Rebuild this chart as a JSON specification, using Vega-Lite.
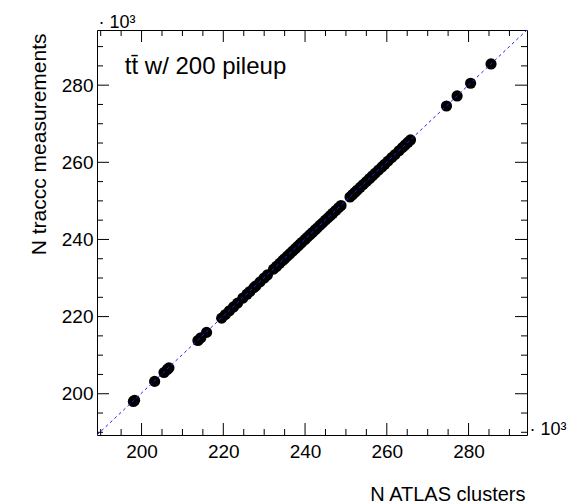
{
  "$schema": "https://vega.github.io/schema/vega-lite/v6.json",
  "width": 430,
  "height": 405,
  "autosize": "none",
  "padding": {"left": 97, "top": 30, "right": 40, "bottom": 68},
  "background": "white",
  "config": {
    "view": {"stroke": "black", "strokeWidth": 1},
    "font": "Liberation Sans",
    "axis": {
      "labelColor": "black", "titleColor": "black",
      "labelFont": "Liberation Sans", "titleFont": "Liberation Sans",
      "labelFontSize": 19, "titleFontSize": 20, "titleFontWeight": "normal"
    }
  },
  "datasets": {
    "pts": [
      {"clusters": 198.0, "measurements": 198.0},
      {"clusters": 198.3, "measurements": 198.3},
      {"clusters": 203.2, "measurements": 203.2},
      {"clusters": 205.5, "measurements": 205.5},
      {"clusters": 206.3, "measurements": 206.3},
      {"clusters": 206.7, "measurements": 206.7},
      {"clusters": 213.8, "measurements": 213.8},
      {"clusters": 214.5, "measurements": 214.5},
      {"clusters": 215.9, "measurements": 215.9},
      {"clusters": 219.6, "measurements": 219.6},
      {"clusters": 220.5, "measurements": 220.5},
      {"clusters": 221.5, "measurements": 221.5},
      {"clusters": 222.5, "measurements": 222.5},
      {"clusters": 223.5, "measurements": 223.5},
      {"clusters": 224.8, "measurements": 224.8},
      {"clusters": 225.8, "measurements": 225.8},
      {"clusters": 226.5, "measurements": 226.5},
      {"clusters": 227.5, "measurements": 227.5},
      {"clusters": 228.0, "measurements": 228.0},
      {"clusters": 229.0, "measurements": 229.0},
      {"clusters": 230.0, "measurements": 230.0},
      {"clusters": 230.8, "measurements": 230.8},
      {"clusters": 232.3, "measurements": 232.3},
      {"clusters": 233.0, "measurements": 233.0},
      {"clusters": 233.8, "measurements": 233.8},
      {"clusters": 234.5, "measurements": 234.5},
      {"clusters": 235.0, "measurements": 235.0},
      {"clusters": 235.7, "measurements": 235.7},
      {"clusters": 236.3, "measurements": 236.3},
      {"clusters": 237.0, "measurements": 237.0},
      {"clusters": 237.6, "measurements": 237.6},
      {"clusters": 238.2, "measurements": 238.2},
      {"clusters": 238.8, "measurements": 238.8},
      {"clusters": 239.3, "measurements": 239.3},
      {"clusters": 240.0, "measurements": 240.0},
      {"clusters": 240.6, "measurements": 240.6},
      {"clusters": 241.2, "measurements": 241.2},
      {"clusters": 241.8, "measurements": 241.8},
      {"clusters": 242.5, "measurements": 242.5},
      {"clusters": 243.0, "measurements": 243.0},
      {"clusters": 243.7, "measurements": 243.7},
      {"clusters": 244.3, "measurements": 244.3},
      {"clusters": 245.0, "measurements": 245.0},
      {"clusters": 245.6, "measurements": 245.6},
      {"clusters": 246.2, "measurements": 246.2},
      {"clusters": 246.8, "measurements": 246.8},
      {"clusters": 247.5, "measurements": 247.5},
      {"clusters": 248.2, "measurements": 248.2},
      {"clusters": 248.8, "measurements": 248.8},
      {"clusters": 251.0, "measurements": 251.0},
      {"clusters": 251.6, "measurements": 251.6},
      {"clusters": 252.2, "measurements": 252.2},
      {"clusters": 252.8, "measurements": 252.8},
      {"clusters": 253.5, "measurements": 253.5},
      {"clusters": 254.2, "measurements": 254.2},
      {"clusters": 255.0, "measurements": 255.0},
      {"clusters": 255.8, "measurements": 255.8},
      {"clusters": 256.5, "measurements": 256.5},
      {"clusters": 257.2, "measurements": 257.2},
      {"clusters": 258.0, "measurements": 258.0},
      {"clusters": 258.8, "measurements": 258.8},
      {"clusters": 259.5, "measurements": 259.5},
      {"clusters": 260.3, "measurements": 260.3},
      {"clusters": 261.2, "measurements": 261.2},
      {"clusters": 262.0, "measurements": 262.0},
      {"clusters": 263.0, "measurements": 263.0},
      {"clusters": 263.8, "measurements": 263.8},
      {"clusters": 264.5, "measurements": 264.5},
      {"clusters": 265.2, "measurements": 265.2},
      {"clusters": 265.8, "measurements": 265.8},
      {"clusters": 274.6, "measurements": 274.6},
      {"clusters": 277.2, "measurements": 277.2},
      {"clusters": 280.5, "measurements": 280.5},
      {"clusters": 285.5, "measurements": 285.5}
    ],
    "diag": [
      {"clusters": 189.1, "measurements": 189.3},
      {"clusters": 294.3, "measurements": 294.3}
    ],
    "label": [
      {"text": "tt\u0304 w/ 200 pileup", "clusters": 195.9, "measurements": 283.0}
    ],
    "major": [{"v": 200}, {"v": 220}, {"v": 240}, {"v": 260}, {"v": 280}],
    "minor": [
      {"v": 190}, {"v": 195}, {"v": 205}, {"v": 210}, {"v": 215}, {"v": 225}, {"v": 230},
      {"v": 235}, {"v": 245}, {"v": 250}, {"v": 255}, {"v": 265}, {"v": 270}, {"v": 275},
      {"v": 285}, {"v": 290}
    ]
  },
  "layer": [
    {
      "data": {"name": "pts"},
      "mark": {"type": "circle", "color": "black", "size": 125, "opacity": 1},
      "encoding": {
        "x": {
          "field": "clusters", "type": "quantitative",
          "scale": {"domain": [189.1, 294.3], "nice": false, "zero": false},
          "axis": {
            "orient": "bottom", "values": [200, 220, 240, 260, 280], "grid": false, "domain": false,
            "ticks": false, "labelPadding": 7,
            "title": "N ATLAS clusters", "titleAnchor": "end", "titleAlign": "right",
            "titleBaseline": "alphabetic", "titleX": 428, "titleY": 65
          }
        },
        "y": {
          "field": "measurements", "type": "quantitative",
          "scale": {"domain": [189.3, 294.3], "nice": false, "zero": false},
          "axis": {
            "orient": "left", "values": [200, 220, 240, 260, 280], "grid": false, "domain": false,
            "ticks": false, "labelPadding": 4,
            "title": "N traccc measurements", "titleAnchor": "end", "titleAlign": "right",
            "titleAngle": -90, "titleBaseline": "alphabetic", "titleX": -52, "titleY": 3,
            "titleFontSize": 21
          }
        }
      }
    },
    {
      "data": {"name": "major"},
      "mark": {"type": "tick", "orient": "vertical", "color": "black", "size": 24, "thickness": 1, "opacity": 1, "clip": true},
      "encoding": {"x": {"field": "v", "type": "quantitative", "axis": null}, "y": {"datum": 189.3, "type": "quantitative", "axis": null}}
    },
    {
      "data": {"name": "minor"},
      "mark": {"type": "tick", "orient": "vertical", "color": "black", "size": 12, "thickness": 1, "opacity": 1, "clip": true},
      "encoding": {"x": {"field": "v", "type": "quantitative", "axis": null}, "y": {"datum": 189.3, "type": "quantitative", "axis": null}}
    },
    {
      "data": {"name": "major"},
      "mark": {"type": "tick", "orient": "vertical", "color": "black", "size": 24, "thickness": 1, "opacity": 1, "clip": true},
      "encoding": {"x": {"field": "v", "type": "quantitative", "axis": null}, "y": {"datum": 294.3, "type": "quantitative", "axis": null}}
    },
    {
      "data": {"name": "minor"},
      "mark": {"type": "tick", "orient": "vertical", "color": "black", "size": 12, "thickness": 1, "opacity": 1, "clip": true},
      "encoding": {"x": {"field": "v", "type": "quantitative", "axis": null}, "y": {"datum": 294.3, "type": "quantitative", "axis": null}}
    },
    {
      "data": {"name": "major"},
      "mark": {"type": "tick", "orient": "horizontal", "color": "black", "size": 24, "thickness": 1, "opacity": 1, "clip": true},
      "encoding": {"y": {"field": "v", "type": "quantitative", "axis": null}, "x": {"datum": 189.1, "type": "quantitative", "axis": null}}
    },
    {
      "data": {"name": "minor"},
      "mark": {"type": "tick", "orient": "horizontal", "color": "black", "size": 12, "thickness": 1, "opacity": 1, "clip": true},
      "encoding": {"y": {"field": "v", "type": "quantitative", "axis": null}, "x": {"datum": 189.1, "type": "quantitative", "axis": null}}
    },
    {
      "data": {"name": "major"},
      "mark": {"type": "tick", "orient": "horizontal", "color": "black", "size": 24, "thickness": 1, "opacity": 1, "clip": true},
      "encoding": {"y": {"field": "v", "type": "quantitative", "axis": null}, "x": {"datum": 294.3, "type": "quantitative", "axis": null}}
    },
    {
      "data": {"name": "minor"},
      "mark": {"type": "tick", "orient": "horizontal", "color": "black", "size": 12, "thickness": 1, "opacity": 1, "clip": true},
      "encoding": {"y": {"field": "v", "type": "quantitative", "axis": null}, "x": {"datum": 294.3, "type": "quantitative", "axis": null}}
    },
    {
      "data": {"name": "diag"},
      "mark": {"type": "line", "color": "#2020ff", "strokeWidth": 1, "strokeDash": [3, 3], "clip": true},
      "encoding": {
        "x": {"field": "clusters", "type": "quantitative", "axis": null},
        "y": {"field": "measurements", "type": "quantitative", "axis": null}
      }
    },
    {
      "data": {"name": "label"},
      "mark": {"type": "text", "fontSize": 24, "font": "Liberation Sans", "align": "left", "baseline": "alphabetic", "color": "black"},
      "encoding": {
        "text": {"field": "text"},
        "x": {
          "field": "clusters", "type": "quantitative",
          "axis": {
            "orient": "top", "values": [200], "grid": false, "domain": false, "ticks": false, "labels": false,
            "title": "· 10³", "titleAnchor": "start", "titleAlign": "left", "titleBaseline": "alphabetic",
            "titleX": 1, "titleY": -3, "titleFontSize": 18
          }
        },
        "y": {
          "field": "measurements", "type": "quantitative",
          "axis": {
            "orient": "right", "values": [200], "grid": false, "domain": false, "ticks": false, "labels": false,
            "title": "· 10³", "titleAngle": 0, "titleAnchor": "start", "titleAlign": "left", "titleBaseline": "alphabetic",
            "titleX": 2, "titleY": 404, "titleFontSize": 18
          }
        }
      }
    }
  ],
  "resolve": {"axis": {"x": "independent", "y": "independent"}}
}
